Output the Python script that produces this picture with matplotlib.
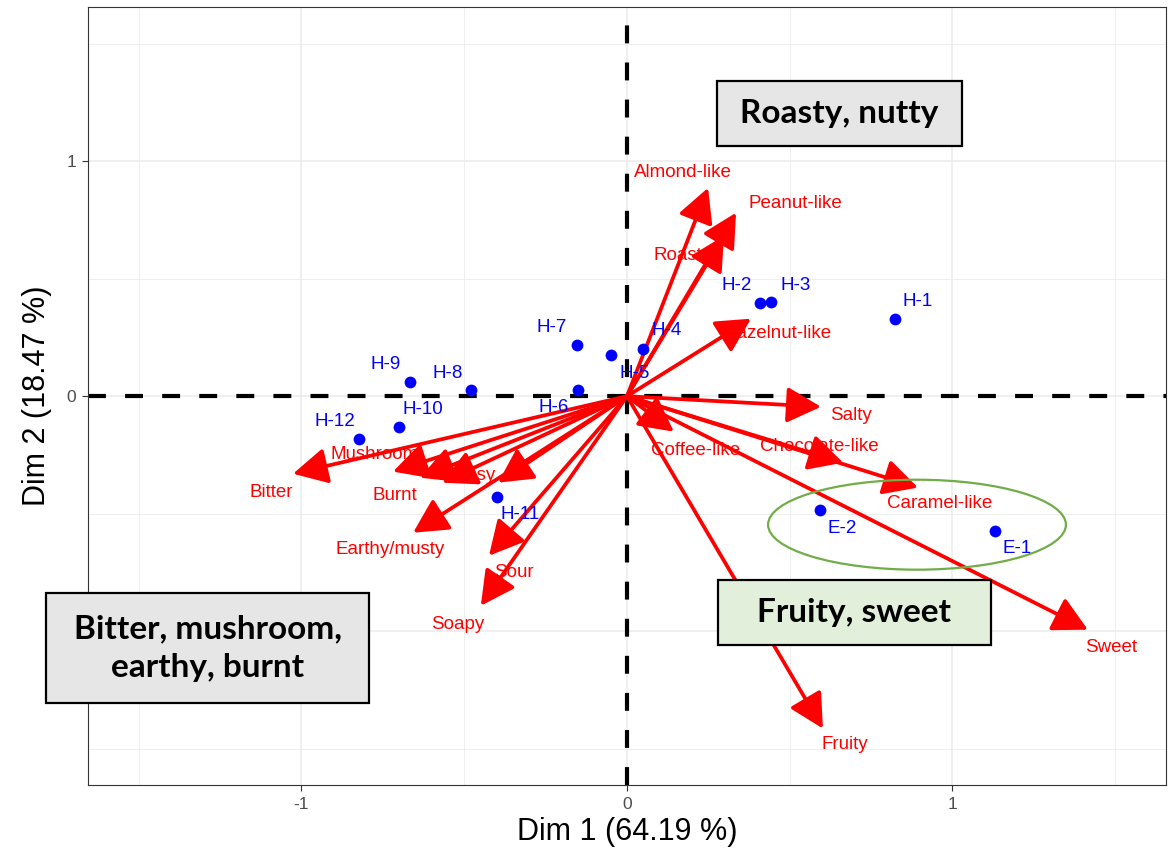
import matplotlib.pyplot as plt
from matplotlib.patches import Ellipse, Rectangle, ArrowStyle
from matplotlib.ticker import MultipleLocator

plt.rcParams['font.family'] = ['Liberation Sans', 'DejaVu Sans']
plt.rcParams['axes.unicode_minus'] = False

# PCA individuals (samples)
samples = ['H-1', 'H-2', 'H-3', 'H-4', 'H-5', 'H-6', 'H-7',
           'H-8', 'H-9', 'H-10', 'H-11', 'H-12', 'E-1', 'E-2']
ind_dim1 = [0.823, 0.409, 0.442, 0.049, -0.049, -0.150, -0.154,
            -0.479, -0.667, -0.700, -0.399, -0.823, 1.132, 0.592]
ind_dim2 = [0.330, 0.398, 0.402, 0.202, 0.177, 0.028, 0.219,
            0.028, 0.062, -0.130, -0.428, -0.181, -0.572, -0.486]

# sensory attributes (None = label dropped by repel)
attributes = ['Almond-like', 'Peanut-like', 'Roasty', 'Hazelnut-like', 'Salty',
              'Coffee-like', 'Chocolate-like', 'Caramel-like', 'Sweet', 'Fruity',
              'Bitter', 'Mushroom', 'Burnt', 'Grassy', None,
              'Earthy/musty', 'Sour', 'Soapy']
var_dim1 = [0.249, 0.335, 0.298, 0.381, 0.596,
            0.144, 0.664, 0.894, 1.416, 0.602,
            -1.026, -0.719, -0.636, -0.568, -0.396,
            -0.657, -0.424, -0.449]
var_dim2 = [0.887, 0.781, 0.683, 0.330, -0.045,
            -0.151, -0.283, -0.389, -0.994, -1.415,
            -0.330, -0.321, -0.347, -0.368, -0.368,
            -0.581, -0.679, -0.892]

dim1_pct = 64.19
dim2_pct = 18.47

# label nudges in pixels (right, down)
ind_nudge = {'H-1': (23, -17), 'H-2': (-23, -17), 'H-3': (25, -16), 'H-4': (24, -18),
             'H-5': (24, 19), 'H-6': (-24, 18), 'H-7': (-25, -17), 'H-8': (-23, -16),
             'H-9': (-24, -17), 'H-10': (24, -17), 'H-11': (23, 18), 'H-12': (-24, -17),
             'E-1': (22, 18), 'E-2': (23, 18)}
var_nudge = {'Almond-like': (-25, -15), 'Peanut-like': (59, -9), 'Roasty': (-41, 20),
             'Hazelnut-like': (27, 15), 'Salty': (30, 9), 'Coffee-like': (22, 19),
             'Chocolate-like': (-24, -16), 'Caramel-like': (22, 16), 'Sweet': (23, 18),
             'Fruity': (22, 16), 'Bitter': (-22, 19), 'Mushroom': (-18, -17),
             'Burnt': (-25, 18), 'Grassy': (24, -7), 'Earthy/musty': (-23, 17),
             'Sour': (25, 17), 'Soapy': (-23, 19)}

fig = plt.figure(figsize=(11.76, 8.51), dpi=100)
ax = fig.add_axes([0.0748, 0.0776, 0.9167, 0.9142])

ax.set_xlim(-1.656, 1.656)
ax.set_ylim(-1.655, 1.657)
ax.xaxis.set_major_locator(MultipleLocator(1))
ax.yaxis.set_major_locator(MultipleLocator(1))
ax.xaxis.set_minor_locator(MultipleLocator(0.5))
ax.yaxis.set_minor_locator(MultipleLocator(0.5))
ax.grid(which='major', color='#ebebeb', lw=1.1, zorder=0)
ax.grid(which='minor', color='#ebebeb', lw=0.6, zorder=0)
ax.set_axisbelow(True)
ax.tick_params(which='minor', length=0)
ax.tick_params(which='major', length=4.5, width=0.8, color='#333333',
               labelcolor='#4d4d4d', labelsize=12.5, pad=4)
for s in ax.spines.values():
    s.set_color('#333333')
    s.set_linewidth(0.8)

ax.axhline(0, color='black', lw=3, ls=(0, (4.3, 4.6)), zorder=1)
ax.axvline(0, color='black', lw=3, ls=(0, (4.3, 4.6)), zorder=1)

ax.set_xlabel(f'Dim 1 ({dim1_pct:.2f} %)', fontsize=22, labelpad=4)
ax.set_ylabel(f'Dim 2 ({dim2_pct:.2f} %)', fontsize=22, labelpad=6)

# variable arrows
head = ArrowStyle('-|>', head_length=21, head_width=11)
for name, x, y in zip(attributes, var_dim1, var_dim2):
    ax.annotate('', xy=(x, y), xytext=(0, 0),
                arrowprops=dict(arrowstyle=head, color='red', lw=2.7,
                                shrinkA=0, shrinkB=0, mutation_scale=1),
                zorder=3)
    if name is not None:
        dx, dy = var_nudge[name]
        ax.annotate(name, xy=(x, y), xytext=(dx, -dy), textcoords='offset pixels',
                    ha='center', va='center', color='red', fontsize=13.5, zorder=4)

# individuals
ax.scatter(ind_dim1, ind_dim2, s=72, color='blue', zorder=5, linewidths=0)
for name, x, y in zip(samples, ind_dim1, ind_dim2):
    dx, dy = ind_nudge[name]
    ax.annotate(name, xy=(x, y), xytext=(dx, -dy), textcoords='offset pixels',
                ha='center', va='center', color='blue', fontsize=13.5, zorder=5)

# cluster of the E samples
ax.add_patch(Ellipse((0.891, -0.547), 0.915, 0.383, fill=False,
                     ec='#70ad47', lw=1.6, zorder=6))

# quadrant captions
boxes = [
    ((0.6097, 0.8284), 0.2083, 0.0764, '#e7e6e6', 'Roasty, nutty'),
    ((0.6105, 0.2421), 0.2322, 0.0763, '#e2efda', 'Fruity, sweet'),
    ((0.0391, 0.1739), 0.2747, 0.1293, '#e7e6e6', 'Bitter, mushroom,\nearthy, burnt'),
]
for (x0, y0), w, h, fc, txt in boxes:
    fig.add_artist(Rectangle((x0, y0), w, h, transform=fig.transFigure,
                             facecolor=fc, edgecolor='black', lw=1.6, zorder=10))
    fig.text(x0 + w / 2, y0 + h / 2, txt, ha='center', va='center',
             family=['Lato', 'DejaVu Sans'], fontweight='bold', fontsize=24,
             linespacing=1.4, zorder=11)

fig.savefig('out.png', dpi=100)
